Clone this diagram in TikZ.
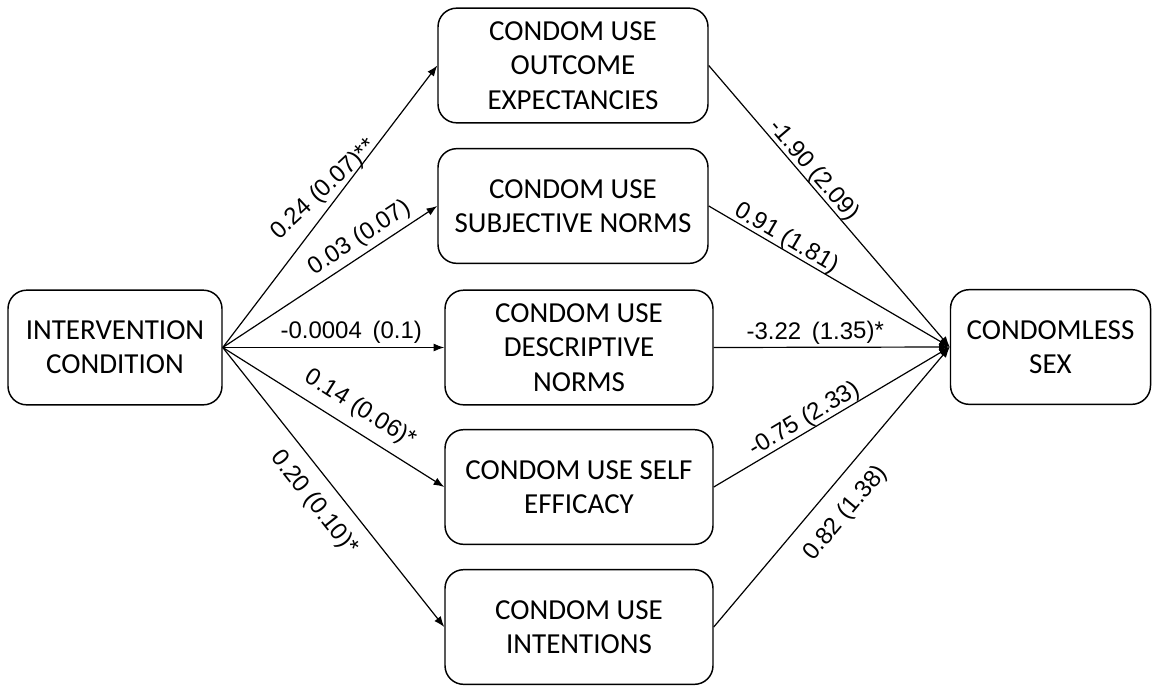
\documentclass[tikz,border=0pt]{standalone}
\usepackage{fontspec}
\setmainfont{Carlito}
\newfontfamily\lblfont{Liberation Sans}
\usetikzlibrary{arrows.meta}
\begin{document}
\begin{tikzpicture}[x=0.75pt,y=-0.75pt,
  box/.style={draw,rounded corners=14pt,line width=1.1pt,align=center,
    font=\fontsize{21.75}{25.7}\selectfont,inner sep=0pt,
    minimum height=86pt},
  conn/.style={line width=0.9pt,-{Latex[length=8pt,width=6pt]}},
  lbl/.style={font=\lblfont\fontsize{18}{20}\selectfont,inner sep=1pt}]
\useasboundingbox (0,0) rectangle (1155,685);
\node[box,minimum width=160.5pt] (iv) at (115,347.5) {INTERVENTION\\CONDITION};
\node[box,minimum width=150pt] (cs) at (1050.5,347) {CONDOMLESS\\SEX};
\node[box,minimum width=202.5pt] (m1) at (573,65.5) {CONDOM USE\\OUTCOME\\EXPECTANCIES};
\node[box,minimum width=202.5pt] (m2) at (573,206) {CONDOM USE\\SUBJECTIVE NORMS};
\node[box,minimum width=201pt] (m3) at (579,347.5) {CONDOM USE\\DESCRIPTIVE\\NORMS};
\node[box,minimum width=201pt] (m4) at (579,487) {CONDOM USE SELF\\EFFICACY};
\node[box,minimum width=201pt] (m5) at (579,627) {CONDOM USE\\INTENTIONS};

\draw[conn] (iv.east) -- node[lbl,pos=0.507,xshift=-5.5pt,yshift=11pt,rotate=43] {0.24 (0.07)**} (m1.west);
\draw[conn] (iv.east) -- node[lbl,sloped,pos=0.68,above=2pt] {0.03 (0.07)} (m2.west);
\draw[conn] (iv.east) -- node[lbl,sloped,pos=0.58,above=1.5pt] {-0.0004\ \,(0.1)} (m3.west);
\draw[conn] (iv.east) -- node[lbl,sloped,pos=0.57,above=6pt] {0.14 (0.06)*} (m4.west);
\draw[conn] (iv.east) -- node[lbl,sloped,pos=0.5,below=9pt] {0.20 (0.10)*} (m5.west);

\draw[conn] (m1.east) -- node[lbl,sloped,pos=0.40,above=-1.5pt] {-1.90 (2.09)} (cs.west);
\draw[conn] (m2.east) -- node[lbl,sloped,pos=0.30,above=-1.5pt] {0.91 (1.81)} (cs.west);
\draw[conn] (m3.east) -- node[lbl,sloped,pos=0.43,above=1pt] {-3.22\ \,(1.35)*} (cs.west);
\draw[conn] (m4.east) -- node[lbl,sloped,pos=0.41,above=-1pt] {-0.75 (2.33)} (cs.west);
\draw[conn] (m5.east) -- node[lbl,sloped,pos=0.47,below=11pt] {0.82 (1.38)} (cs.west);
\end{tikzpicture}
\end{document}
